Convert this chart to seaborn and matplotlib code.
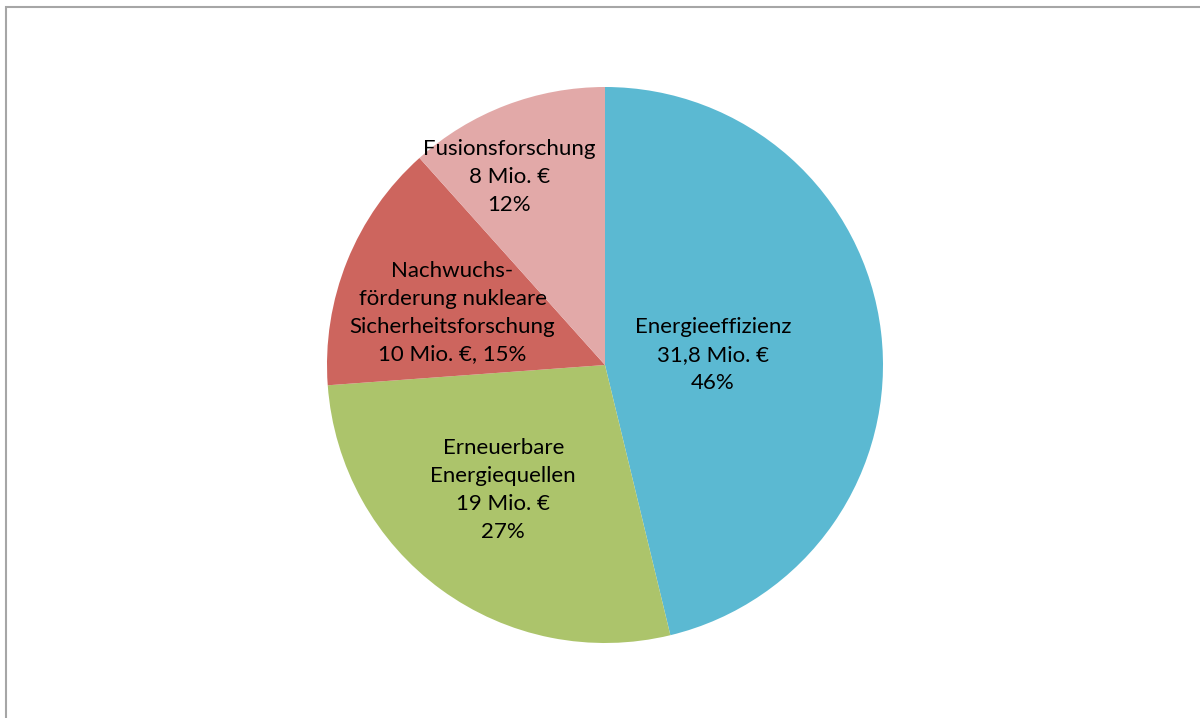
import seaborn as sns
import numpy as np
import matplotlib.pyplot as plt
from matplotlib.patches import Rectangle

# data
categories = ["Energieeffizienz", "Erneuerbare\nEnergiequellen",
              "Nachwuchs-\nförderung nukleare\nSicherheitsforschung", "Fusionsforschung"]
amounts = [31.8, 19, 10, 8]
amount_labels = ["31,8 Mio. €", "19 Mio. €", "10 Mio. €", "8 Mio. €"]
percent_labels = ["46%", "27%", "15%", "12%"]
colors = ["#5bb9d2", "#acc46b", "#cd655e", "#e2a9a8"]

sns.set_theme(style="white")
plt.rcParams["font.family"] = ["Lato", "DejaVu Sans"]

fig = plt.figure(figsize=(12, 7.18), dpi=100)
W, H = 1200, 718
cx, cy, r = 605, 365, 278
ax = fig.add_axes([(cx - r) / W, (H - cy - r) / H, 2 * r / W, 2 * r / H])

wedges, _ = ax.pie(amounts, colors=colors, startangle=90, counterclock=False,
                   wedgeprops=dict(linewidth=0))
ax.set_xlim(-1, 1)
ax.set_ylim(-1, 1)
ax.set_aspect("auto")

# label placement: distance from centre and small angle nudge per slice
dist = [0.39, 0.58, 0.58, 0.76]
nudge = [-1.5, -3, 3, 6]
for i, w in enumerate(wedges):
    ang = np.deg2rad((w.theta1 + w.theta2) / 2 + nudge[i])
    x, y = dist[i] * np.cos(ang), dist[i] * np.sin(ang)
    if i == 2:
        txt = f"{categories[i]}\n{amount_labels[i]}, {percent_labels[i]}"
    else:
        txt = f"{categories[i]}\n{amount_labels[i]}\n{percent_labels[i]}"
    ax.text(x, y, txt, ha="center", va="center", fontsize=16,
            linespacing=1.5, color="black")

# chart area border (top and left visible)
fig.add_artist(Rectangle((5.5 / W, -0.1), 1.2, 1 - 7 / H + 0.1,
                         transform=fig.transFigure, fill=False,
                         edgecolor="#a6a6a6", linewidth=1.5))

fig.savefig("out.png", dpi=100)
